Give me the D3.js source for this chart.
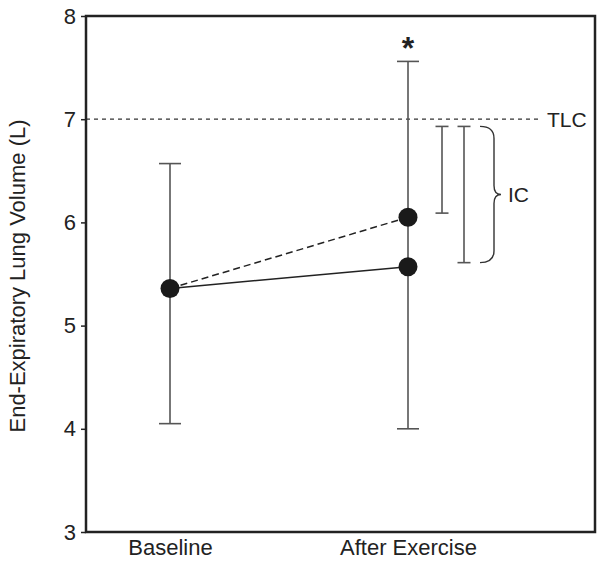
<!DOCTYPE html>
<html><head><meta charset="utf-8">
<script src="https://cdn.jsdelivr.net/npm/d3@7/dist/d3.min.js"></script>
<style>body{margin:0;background:#fff}svg{display:block}text{font-family:"Liberation Sans",Arial,Helvetica,sans-serif;fill:#222}</style>
</head><body><svg id="c" width="597" height="561"></svg>
<script>
const categories = ["Baseline", "After Exercise"];
const solidMean = [5.36, 5.57];
const solidLow = [4.05, 4.00];
const dashedMean = [5.36, 6.05];
const dashedHigh = [6.57, 7.56];
const yTicks = [3, 4, 5, 6, 7, 8];
const tlc = 7.0;
const icBars = [[6.93, 6.09], [6.93, 5.61]];
const icBrace = [6.93, 5.61];

const svg = d3.select("#c");
const L = 86, R = 595, T = 16, B = 532;
const y = d3.scaleLinear().domain([3, 8]).range([B, T]);
const x = d3.scalePoint().domain(categories).range([170, 408]);
const ink = "#222", bar = "#555";
const FF = '"Liberation Sans", Arial, sans-serif';

// TLC dashed line
svg.append("line").attr("x1", L).attr("x2", 541).attr("y1", y(tlc)).attr("y2", y(tlc))
  .attr("stroke", "#333").attr("stroke-width", 1.3).attr("stroke-dasharray", "4,4");
svg.append("text").attr("x", 547).attr("y", y(tlc)).attr("dy", "0.36em")
  .attr("font-size", 21).text("TLC");

// error bars
function vbar(xp, y1, y2, cap, color, w) {
  svg.append("line").attr("x1", xp).attr("x2", xp).attr("y1", y(y1)).attr("y2", y(y2))
    .attr("stroke", color).attr("stroke-width", w);
  [y1, y2].forEach(v => svg.append("line").attr("x1", xp - cap / 2).attr("x2", xp + cap / 2)
    .attr("y1", y(v)).attr("y2", y(v)).attr("stroke", color).attr("stroke-width", w));
}
categories.forEach((c, i) => vbar(x(c), solidLow[i], dashedHigh[i], 22, bar, 1.6));

// IC bars
const xa = x(categories[1]);
vbar(xa + 34, icBars[0][0], icBars[0][1], 13, bar, 1.6);
vbar(xa + 56, icBars[1][0], icBars[1][1], 13, bar, 1.6);

// brace
const bt = y(icBrace[0]), bb = y(icBrace[1]), bm = (bt + bb) / 2;
const bx0 = xa + 72, bx1 = xa + 86, btip = xa + 93;
svg.append("path").attr("fill", "none").attr("stroke", "#333").attr("stroke-width", 1.4)
  .attr("d", `M${bx0},${bt} Q${bx1},${bt} ${bx1},${bt + 12} L${bx1},${bm - 9} Q${bx1},${bm} ${btip},${bm} Q${bx1},${bm} ${bx1},${bm + 9} L${bx1},${bb - 12} Q${bx1},${bb} ${bx0},${bb}`);
svg.append("text").attr("x", btip + 7).attr("y", bm).attr("dy", "0.36em")
  .attr("font-size", 21).text("IC");

// connecting lines
const line = d3.line().x((d, i) => x(categories[i])).y(d => y(d));
svg.append("path").datum(dashedMean).attr("d", line).attr("fill", "none")
  .attr("stroke", ink).attr("stroke-width", 1.5).attr("stroke-dasharray", "7,4");
svg.append("path").datum(solidMean).attr("d", line).attr("fill", "none")
  .attr("stroke", ink).attr("stroke-width", 1.5);

// points
const pts = [{c: categories[0], v: solidMean[0]}, {c: categories[1], v: solidMean[1]}, {c: categories[1], v: dashedMean[1]}];
svg.selectAll("circle.p").data(pts).join("circle").attr("cx", d => x(d.c)).attr("cy", d => y(d.v))
  .attr("r", 9.5).attr("fill", "#1a1a1a");

// asterisk
svg.append("text").attr("x", xa).attr("y", y(dashedHigh[1]) - 2).attr("text-anchor", "middle")
  .attr("font-size", 32).attr("font-weight", "bold").text("*");

// frame
svg.append("rect").attr("x", L).attr("y", T).attr("width", R - L).attr("height", B - T)
  .attr("fill", "none").attr("stroke", ink).attr("stroke-width", 2.5);

// y axis
const ya = svg.append("g").attr("transform", `translate(${L},0)`)
  .call(d3.axisLeft(y).tickValues(yTicks).tickSize(5).tickPadding(5).tickFormat(d3.format("d")));
ya.select(".domain").remove();
ya.selectAll("line").attr("stroke", ink).attr("stroke-width", 1.5);
ya.selectAll("text").attr("font-size", 22).attr("fill", ink).style("font-family", FF);

// x labels
const xa2 = svg.append("g").attr("transform", `translate(0,${B})`)
  .call(d3.axisBottom(x).tickSize(0).tickPadding(0));
xa2.select(".domain").remove();
xa2.selectAll("text").attr("font-size", 22).attr("fill", ink).attr("y", 23).attr("dy", null)
  .style("font-family", FF);

// y title
svg.append("text").attr("transform", `translate(25,${(T + B) / 2 + 2}) rotate(-90)`).attr("text-anchor", "middle")
  .attr("font-size", 22).text("End-Expiratory Lung Volume (L)");
</script></body></html>
